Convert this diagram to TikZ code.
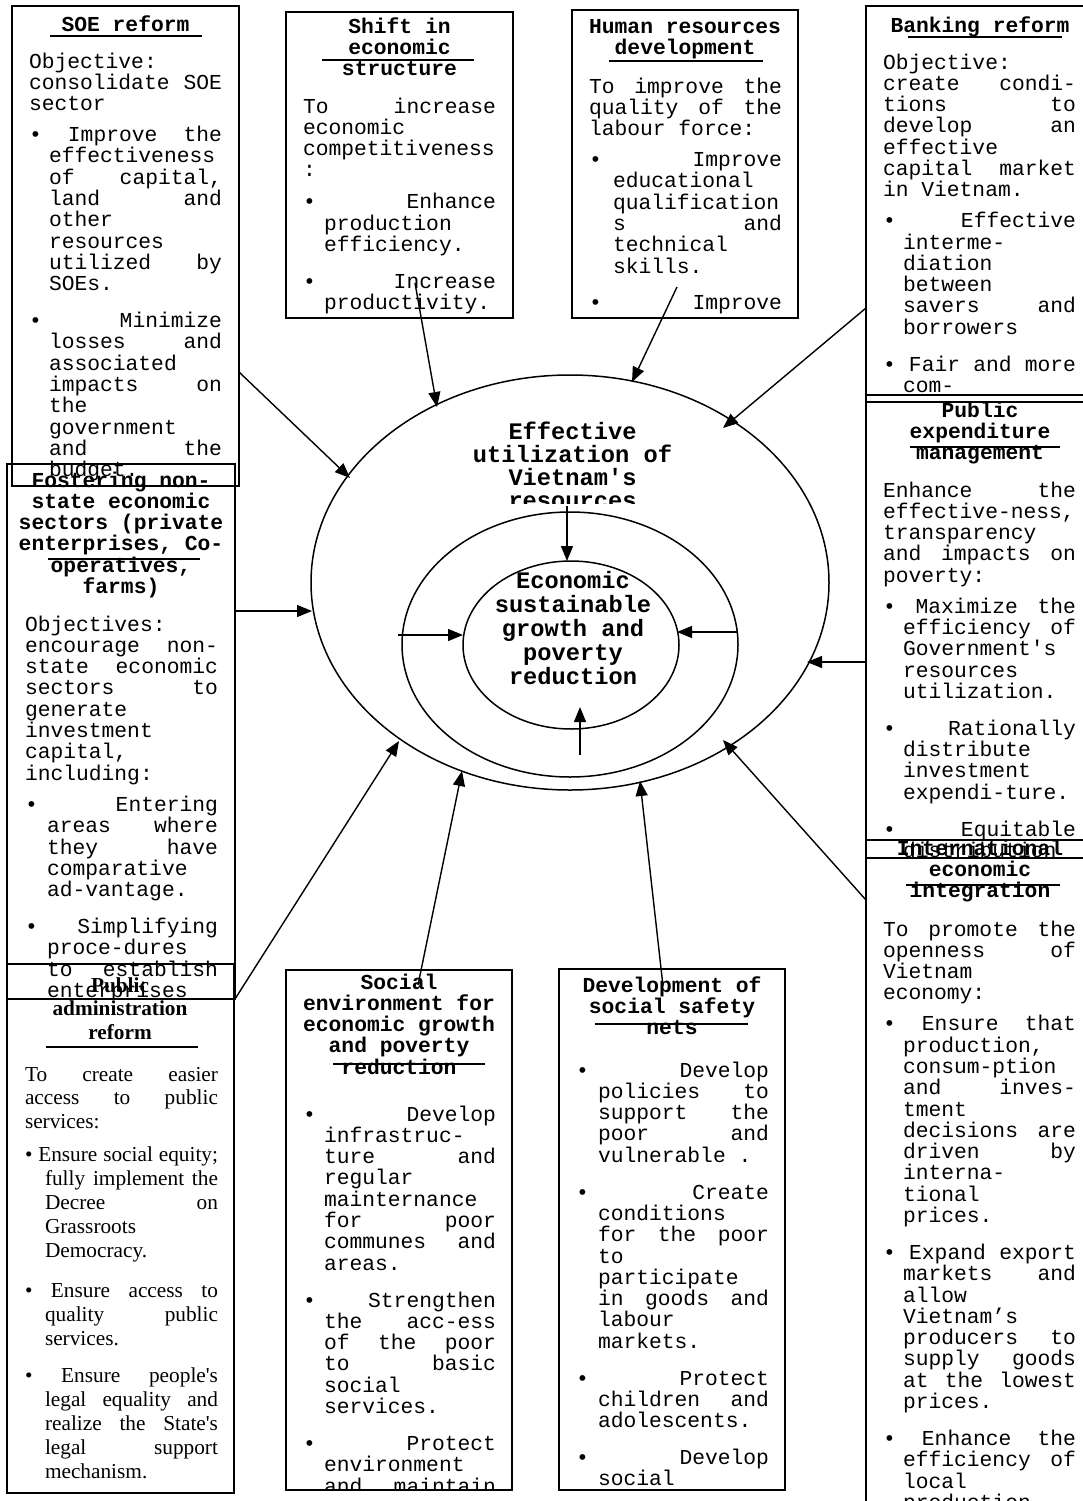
\documentclass[tikz,border=0pt]{standalone}
\usepackage{fontspec}
\setmonofont{Liberation Mono}
\newfontfamily\tmsfam{Liberation Serif}
\usetikzlibrary{arrows.meta,shapes.geometric}
\newdimen\bind
\newcommand\lnA[1]{\hbox to\hsize{\strut#1\hfil}}
\newcommand\lnJ[1]{\hbox to\hsize{\strut\spaceskip=\fontdimen2\font plus 1fil\relax#1}}
\newcommand\inA[1]{\hbox to\hsize{\strut\hskip\bind\relax#1\hfil}}
\newcommand\inJ[1]{\hbox to\hsize{\strut\hskip\bind\relax\spaceskip=\fontdimen2\font plus 1fil\relax#1}}
\newcommand\bul[1]{\hbox to\hsize{\strut\spaceskip=\fontdimen2\font plus 1fil\relax\textbullet{} #1}}
\newcommand\ctr[1]{\hbox to\hsize{\hss\strut#1\hss}}
\newcommand\gapv[1]{\vskip#1pt}
\newcommand\mono{\ttfamily\fontsize{21.3pt}{21.3pt}\selectfont}
\newcommand\serf{\tmsfam\fontsize{21.3pt}{23.9pt}\selectfont}
\newcommand\blk[2]{\vbox{\hsize=#1pt\lineskiplimit=-\maxdimen\frenchspacing#2}}
\begin{document}
\begin{tikzpicture}[x=1pt,y=-1pt,
  box/.style={draw,line width=1.6pt,inner sep=0pt,outer sep=0pt,anchor=north west},
  txt/.style={inner sep=0pt,outer sep=0pt,anchor=north west},
  ttl/.style={inner sep=0pt,outer sep=0pt,anchor=north},
  uline/.style={line width=1.5pt},
  arr/.style={line width=1.4pt,-{Triangle[length=15pt,width=12pt]}},
  oval/.style={draw,ellipse,line width=1.5pt,inner sep=0pt}]
\useasboundingbox (0,0) rectangle (1083,1501);
\fill[white] (0,0) rectangle (1083,1501);

% ---------- boxes ----------
\node[box,minimum width=227pt,minimum height=480pt] (soe) at (12,6) {};
\node[box,minimum width=227pt,minimum height=306pt] (shift) at (286,12) {};
\node[box,minimum width=226pt,minimum height=308pt] (human) at (572,10) {};
\node[box,minimum width=230pt,minimum height=396pt] (bank) at (866,6) {};
\node[box,minimum width=230pt,minimum height=463pt] (pexp) at (866,395) {};
\node[box,minimum width=230pt,minimum height=690pt] (intl) at (866,840) {};
\node[box,minimum width=228pt,minimum height=535pt] (fost) at (7,464) {};
\node[box,minimum width=227pt,minimum height=529pt] (padm) at (7,964) {};
\node[box,minimum width=226pt,minimum height=520pt] (soc) at (286,970) {};
\node[box,minimum width=226pt,minimum height=521pt] (dev) at (559,969) {};

% ---------- ellipses ----------
\node[oval,minimum width=518pt,minimum height=415pt] (outer) at (570,582.5) {};
\node[oval,minimum width=336pt,minimum height=265pt] (middle) at (570,644.5) {};
\node[oval,minimum width=216pt,minimum height=168pt] (inner) at (571,645) {};

\begin{scope}
\clip (430,415) rectangle (720,503);
\node[ttl] (outerT) at (572.5,422) {\blk{260}{\ttfamily\bfseries\fontsize{23.7pt}{23pt}\selectfont
 \ctr{Effective}\ctr{utilization of}\ctr{Vietnam's}\ctr{resources}}};
\end{scope}
\node[ttl] (innerT) at (573,571) {\blk{200}{\ttfamily\bfseries\fontsize{23.7pt}{24pt}\selectfont
 \ctr{Economic}\ctr{sustainable}\ctr{growth and}\ctr{poverty}\ctr{reduction}}};

% ---------- SOE reform ----------
\begin{scope}
\clip (12,6) rectangle (239,486);
\node[ttl] (soeH) at (125.5,15.6) {\blk{220}{\mono\bfseries\ctr{SOE reform}}};
\node[txt] (soeT) at (29,52.6) {\blk{193}{\mono\bind=20pt
 \lnA{Objective:}\lnJ{consolidate SOE}\lnA{sector}
 \gapv{9.6}
 \bul{Improve the}\inA{effectiveness}\inJ{of capital,}\inJ{land and}\inA{other}\inA{resources}\inJ{utilized by}\inA{SOEs.}
 \gapv{15.6}
 \bul{Minimize}\inJ{losses and}\inA{associated}\inJ{impacts on}\inA{the}\inA{government}\inJ{and the}\inA{budget.}}};
\end{scope}
\draw[uline] (50,36) -- (202,36);

% ---------- Shift in economic structure ----------
\begin{scope}
\clip (286,12) rectangle (513,318);
\node[ttl] (shiftH) at (399.5,17.6) {\blk{220}{\mono\bfseries\ctr{Shift in}\ctr{economic}\ctr{structure}}};
\node[txt] (shiftT) at (303,97.6) {\blk{193}{\mono\bind=21pt
 \lnJ{To increase}\lnA{economic}\lnA{competitiveness}\lnA{:}
 \gapv{10.6}
 \bul{Enhance}\inA{production}\inA{efficiency.}
 \gapv{15.6}
 \bul{Increase}\inA{productivity.}}};
\end{scope}
\draw[uline] (322,60) -- (474,60);

% ---------- Human resources development ----------
\begin{scope}
\clip (572,10) rectangle (798,318);
\node[ttl] (humanH) at (685,18.1) {\blk{220}{\mono\bfseries\ctr{Human resources}\ctr{development}}};
\node[txt] (humanT) at (589,77.6) {\blk{193}{\mono\bind=24pt
 \lnJ{To improve the}\lnJ{quality of the}\lnA{labour force:}
 \gapv{9.6}
 \bul{Improve}\inA{educational}\inA{qualification}\inJ{s and}\inA{technical}\inA{skills.}
 \gapv{15.6}
 \bul{Improve}}};
\end{scope}
\draw[uline] (609,61) -- (763,61);

% ---------- Banking reform ----------
\begin{scope}
\clip (866,6) rectangle (1090,395);
\node[ttl] (bankH) at (980,16.6) {\blk{220}{\mono\bfseries\ctr{Banking reform}}};
\node[txt] (bankT) at (883,53.6) {\blk{193}{\mono\bind=20pt
 \lnA{Objective:}\lnJ{create condi-}\lnJ{tions to}\lnJ{develop an}\lnA{effective}\lnJ{capital market}\lnA{in Vietnam.}
 \gapv{9.6}
 \bul{Effective}\inA{interme-}\inA{diation}\inA{between}\inJ{savers and}\inA{borrowers}
 \gapv{15.6}
 \bul{Fair and more}\inA{com-}}};
\end{scope}
\draw[uline] (908,37) -- (1062,37);

% ---------- Public expenditure management ----------
\begin{scope}
\clip (866,395) rectangle (1090,858);
\node[ttl] (pexpH) at (980,401.6) {\blk{220}{\mono\bfseries\ctr{Public}\ctr{expenditure}\ctr{management}}};
\node[txt] (pexpT) at (883,481.6) {\blk{193}{\mono\bind=20pt
 \lnJ{Enhance the}\lnA{effective-ness,}\lnA{transparency}\lnJ{and impacts on}\lnA{poverty:}
 \gapv{9.6}
 \bul{Maximize the}\inJ{efficiency of}\inA{Government's}\inA{resources}\inA{utilization.}
 \gapv{15.6}
 \bul{Rationally}\inA{distribute}\inA{investment}\inA{expendi-ture.}
 \gapv{15.6}
 \bul{Equitable}\inA{distribution}}};
\end{scope}
\draw[uline] (910,447) -- (1060,447);

% ---------- International economic integration ----------
\begin{scope}
\clip (866,840) rectangle (1090,1530);
\node[ttl] (intlH) at (980,839.6) {\blk{220}{\mono\bfseries\ctr{International}\ctr{economic}\ctr{integration}}};
\node[txt] (intlT) at (883,920.6) {\blk{193}{\mono\bind=20pt
 \lnJ{To promote the}\lnJ{openness of}\lnA{Vietnam}\lnA{economy:}
 \gapv{9.6}
 \bul{Ensure that}\inA{production,}\inA{consum-ption}\inJ{and inves-}\inA{tment}\inJ{decisions are}\inJ{driven by}\inA{interna-}\inA{tional}\inA{prices.}
 \gapv{15.6}
 \bul{Expand export}\inJ{markets and}\inA{allow}\inA{Vietnam’s}\inJ{producers to}\inJ{supply goods}\inJ{at the lowest}\inA{prices.}
 \gapv{15.6}
 \bul{Enhance the}\inJ{efficiency of}\inA{local}\inA{production}}};
\end{scope}
\draw[uline] (906,885) -- (1060,885);

% ---------- Fostering non-state economic sectors ----------
\begin{scope}
\clip (7,464) rectangle (235,999);
\node[ttl] (fostH) at (121,471.6) {\blk{228}{\mono\bfseries\ctr{Fostering non-}\ctr{state economic}\ctr{sectors (private}\ctr{enterprises, Co-}\ctr{operatives,}\ctr{farms)}}};
\node[txt] (fostT) at (25,615.6) {\blk{193}{\mono\bind=22pt
 \lnA{Objectives:}\lnJ{encourage non-}\lnJ{state economic}\lnJ{sectors to}\lnA{generate}\lnA{investment}\lnA{capital,}\lnA{including:}
 \gapv{10}
 \bul{Entering}\inJ{areas where}\inJ{they have}\inA{comparative}\inA{ad-vantage.}
 \gapv{15.6}
 \bul{Simplifying}\inA{proce-dures}\inJ{to establish}\inA{enterprises}}};
\end{scope}
\draw[uline] (48,559) -- (200,559);

% ---------- Public administration reform ----------
\begin{scope}
\clip (7,964) rectangle (234,1493);
\node[ttl] (padmH) at (120,975.3) {\blk{220}{\serf\bfseries\ctr{Public}\ctr{administration}\ctr{reform}}};
\node[txt] (padmT) at (25,1064.3) {\blk{193}{\serf\bind=20pt
 \lnJ{To create easier}\lnJ{access to public}\lnA{services:}
 \gapv{9}
 \bul{Ensure social equity;}\inJ{fully implement the}\inJ{Decree on}\inA{Grassroots}\inA{Democracy.}
 \gapv{16}
 \bul{Ensure access to}\inJ{quality public}\inA{services.}
 \gapv{14}
 \bul{Ensure people's}\inJ{legal equality and}\inJ{realize the State's}\inJ{legal support}\inA{mechanism.}}};
\end{scope}
\draw[uline] (46,1047) -- (198,1047);

% ---------- Social environment ----------
\begin{scope}
\clip (286,970) rectangle (512,1490);
\node[ttl] (socH) at (399,973.6) {\blk{220}{\mono\bfseries\ctr{Social}\ctr{environment for}\ctr{economic growth}\ctr{and poverty}\ctr{reduction}}};
\node[txt] (socT) at (303,1105.6) {\blk{193}{\mono\bind=21pt
 \bul{Develop}\inA{infrastruc-}\inJ{ture and}\inA{regular}\inA{mainternance}\inJ{for poor}\inJ{communes and}\inA{areas.}
 \gapv{15.6}
 \bul{Strengthen}\inJ{the acc-ess}\inJ{of the poor}\inJ{to basic}\inA{social}\inA{services.}
 \gapv{15.6}
 \bul{Protect}\inA{environment}\inJ{and maintain}}};
\end{scope}
\draw[uline] (333,1064) -- (485,1064);

% ---------- Development of social safety nets ----------
\begin{scope}
\clip (559,969) rectangle (785,1490);
\node[ttl] (devH) at (672,976.6) {\blk{220}{\mono\bfseries\ctr{Development of}\ctr{social safety}\ctr{nets}}};
\node[txt] (devT) at (576,1061.6) {\blk{193}{\mono\bind=22pt
 \bul{Develop}\inJ{policies to}\inJ{support the}\inJ{poor and}\inA{vulnerable .}
 \gapv{15.6}
 \bul{Create}\inA{conditions}\inJ{for the poor}\inA{to}\inA{participate}\inJ{in goods and}\inA{labour}\inA{markets.}
 \gapv{15.6}
 \bul{Protect}\inJ{children and}\inA{adolescents.}
 \gapv{15.6}
 \bul{Develop}\inA{social}}};
\end{scope}
\draw[uline] (595,1024) -- (748,1024);

% ---------- connector end points ----------
\coordinate (soeS) at (239,372);   \coordinate (soeE) at (350,478);
\coordinate (shiftS) at (415,283); \coordinate (shiftE) at (437,407);
\coordinate (humanS) at (677,287); \coordinate (humanE) at (632,382);
\coordinate (bankS) at (866,308);  \coordinate (bankE) at (723,428);
\coordinate (fostS) at (236,611);  \coordinate (fostE) at (312,611);
\coordinate (pexpS) at (866,662);  \coordinate (pexpE) at (807,662);
\coordinate (padmS) at (235,999);  \coordinate (padmE) at (399,741);
\coordinate (socS) at (418,985);   \coordinate (socE) at (462,771);
\coordinate (devS) at (663,986);   \coordinate (devE) at (640,781);
\coordinate (intlS) at (866,900);  \coordinate (intlE) at (723,740);
\coordinate (midT) at (567,506);   \coordinate (inT) at (567,561);
\coordinate (midL) at (398,635);   \coordinate (inL) at (463,635);
\coordinate (midR) at (738,632);   \coordinate (inR) at (677,632);
\coordinate (midB) at (580,755);   \coordinate (inB) at (580,707);

% ---------- connectors ----------
\draw[arr] (soeS) -- (soeE);
\draw[arr] (shiftS) -- (shiftE);
\draw[arr] (humanS) -- (humanE);
\draw[arr] (bankS) -- (bankE);
\draw[arr] (fostS) -- (fostE);
\draw[arr] (pexpS) -- (pexpE);
\draw[arr] (padmS) -- (padmE);
\draw[arr] (socS) -- (socE);
\draw[arr] (devS) -- (devE);
\draw[arr] (intlS) -- (intlE);
\draw[arr] (midT) -- (inT);
\draw[arr] (midL) -- (inL);
\draw[arr] (midR) -- (inR);
\draw[arr] (midB) -- (inB);
\end{tikzpicture}
\end{document}
